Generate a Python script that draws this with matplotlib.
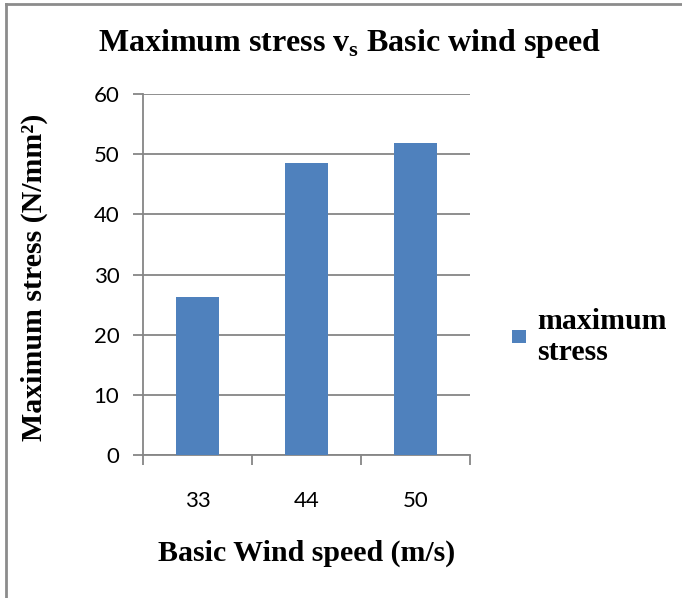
import matplotlib.pyplot as plt
import matplotlib as mpl
from matplotlib.lines import Line2D
import numpy as np

# data
wind_speeds = ["33", "44", "50"]
max_stress = [26.2, 48.5, 51.8]
y_ticks = [0, 10, 20, 30, 40, 50, 60]

plt.rcParams['mathtext.fontset'] = 'custom'
plt.rcParams['mathtext.rm'] = 'Liberation Serif'
plt.rcParams['mathtext.bf'] = 'Liberation Serif:bold'

grid_col = "#868686"
bar_col = "#4F81BD"

fig = plt.figure(figsize=(6.82, 5.98), dpi=100)
ax = fig.add_axes([0.2097, 0.2391, 0.4795, 0.6037])

x = np.arange(len(wind_speeds))
ax.bar(x, max_stress, width=0.4, color=bar_col, zorder=3, label="maximum\nstress")

ax.set_xlim(-0.5, len(wind_speeds) - 0.5)
ax.set_ylim(0, 60)
ax.set_yticks(y_ticks)
ax.set_xticks(x)
ax.set_xticklabels(wind_speeds)
ax.set_xticks(np.arange(-0.5, len(wind_speeds), 1.0), minor=True)

ax.yaxis.grid(True, color=grid_col, linewidth=1.3, zorder=0)
ax.tick_params(axis='y', length=7, width=1.3, color=grid_col, pad=10, labelsize=16)
ax.tick_params(axis='x', which='major', length=0, pad=26, labelsize=16)
ax.tick_params(axis='x', which='minor', length=7, width=1.3, color=grid_col)
for lab in ax.get_xticklabels() + ax.get_yticklabels():
    lab.set_fontfamily('Lato')

for s in ["top", "right"]:
    ax.spines[s].set_visible(False)
for s in ["left", "bottom"]:
    ax.spines[s].set_color(grid_col)
    ax.spines[s].set_linewidth(1.3)

serif = dict(family='Liberation Serif', weight='bold')
fig.text(0.513, 0.928, r"Maximum stress v$_\mathbf{s}$ Basic wind speed",
         ha='center', va='center', fontsize=23, **serif)
fig.text(0.051, 0.537, "Maximum stress (N/mm²)", rotation=90,
         ha='center', va='center', fontsize=21.5, **serif)
fig.text(0.45, 0.075, "Basic Wind speed (m/s)",
         ha='center', va='center', fontsize=21.5, **serif)

leg = fig.legend(loc='upper left', bbox_to_anchor=(0.751, 0.485), frameon=False,
                 prop=dict(family='Liberation Serif', weight='bold', size=21.5),
                 handlelength=0.45, handleheight=0.3, handletextpad=0.4,
                 borderpad=0, borderaxespad=0)

# outer chart border (left and top visible)
fig.add_artist(Line2D([0.009, 0.009], [0, 0.993], color="#8c8c8c", linewidth=2,
                      transform=fig.transFigure))
fig.add_artist(Line2D([0.009, 1.0], [0.993, 0.993], color="#8c8c8c", linewidth=2,
                      transform=fig.transFigure))

fig.savefig("out.png", dpi=100)
